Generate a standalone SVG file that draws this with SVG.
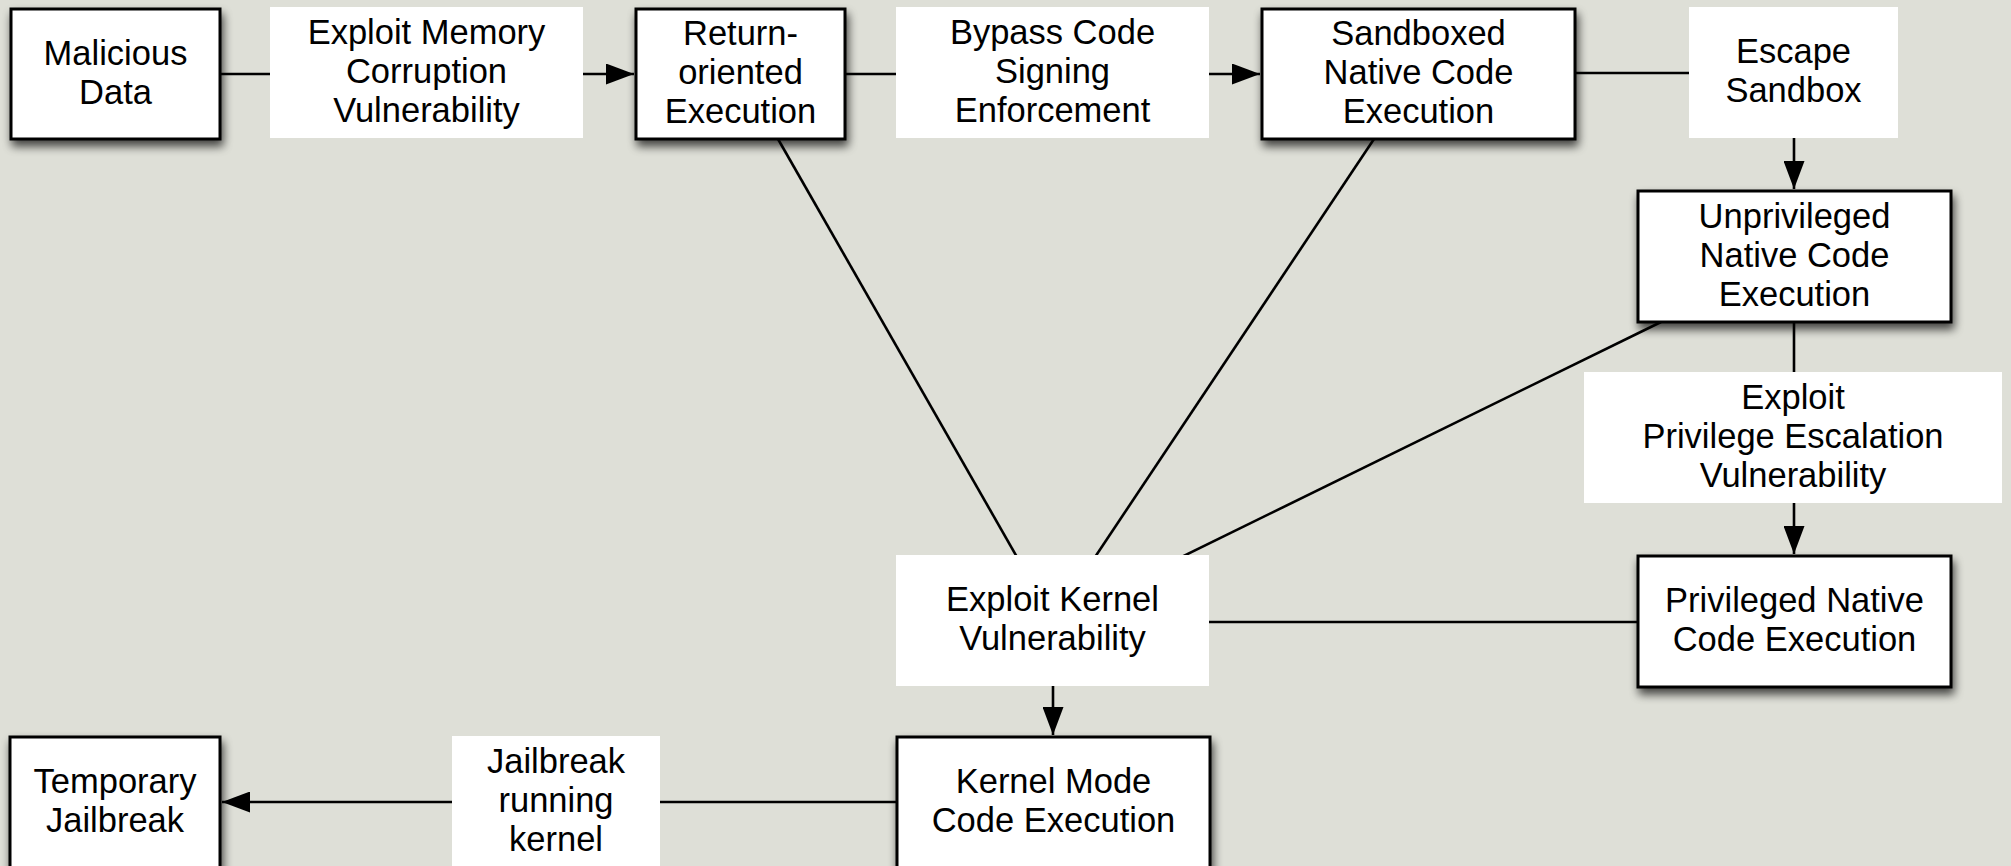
<svg xmlns="http://www.w3.org/2000/svg" width="2011" height="866" viewBox="0 0 2011 866">
<defs>
<filter id="sh" x="-10%" y="-10%" width="125%" height="140%">
<feGaussianBlur in="SourceAlpha" stdDeviation="5"/>
<feOffset dx="2" dy="6" result="b"/>
<feComponentTransfer><feFuncA type="linear" slope="0.7"/></feComponentTransfer>
<feMerge><feMergeNode/><feMergeNode in="SourceGraphic"/></feMerge>
</filter>
<marker id="ah" viewBox="0 0 28 21" refX="28" refY="10.5" markerWidth="28" markerHeight="21" markerUnits="userSpaceOnUse" orient="auto">
<path d="M0,0 L28,10.5 L0,21 z" fill="#000"/>
</marker>
</defs>
<style>
.box{fill:#fff;stroke:#000;stroke-width:3;filter:url(#sh)}
.lbl{fill:#fff}
.c{fill:none;stroke:#000;stroke-width:2.6}
text{font-family:"Liberation Sans",Arial,Helvetica,sans-serif;font-size:34.5px;fill:#000;text-anchor:middle}
</style>
<rect width="2011" height="866" fill="#dedfd7"/>
<g id="connectors">
<path class="c" d="M220,74 H634" marker-end="url(#ah)"/>
<path class="c" d="M845,74 H1260" marker-end="url(#ah)"/>
<path class="c" d="M1575,73 H1794 V189" marker-end="url(#ah)"/>
<path class="c" d="M1794,322 V554" marker-end="url(#ah)"/>
<path class="c" d="M778,139 L1053,620"/>
<path class="c" d="M1374,139 L1053,620"/>
<path class="c" d="M1661,322 L1053,620"/>
<path class="c" d="M1638,622 H1053"/>
<path class="c" d="M1053,686 V735" marker-end="url(#ah)"/>
<path class="c" d="M897,802 H222" marker-end="url(#ah)"/>
</g>
<g id="malicious"><rect class="box" x="11" y="9" width="209" height="130"/><text x="115.5" y="64.5">Malicious</text><text x="115.5" y="103.5">Data</text></g>
<g id="lbl-memory"><rect class="lbl" x="270" y="7" width="313" height="131"/><text x="426.5" y="43.5">Exploit Memory</text><text x="426.5" y="82.5">Corruption</text><text x="426.5" y="121.5">Vulnerability</text></g>
<g id="return"><rect class="box" x="636" y="9" width="209" height="130"/><text x="740.5" y="45">Return-</text><text x="740.5" y="84">oriented</text><text x="740.5" y="123">Execution</text></g>
<g id="lbl-bypass"><rect class="lbl" x="896" y="7" width="313" height="131"/><text x="1052.5" y="43.5">Bypass Code</text><text x="1052.5" y="82.5">Signing</text><text x="1052.5" y="121.5">Enforcement</text></g>
<g id="sandboxed"><rect class="box" x="1262" y="9" width="313" height="130"/><text x="1418.5" y="45">Sandboxed</text><text x="1418.5" y="84">Native Code</text><text x="1418.5" y="123">Execution</text></g>
<g id="lbl-escape"><rect class="lbl" x="1689" y="7" width="209" height="131"/><text x="1793.5" y="63">Escape</text><text x="1793.5" y="102">Sandbox</text></g>
<g id="unprivileged"><rect class="box" x="1638" y="191" width="313" height="131"/><text x="1794.5" y="227.5">Unprivileged</text><text x="1794.5" y="266.5">Native Code</text><text x="1794.5" y="305.5">Execution</text></g>
<g id="lbl-privesc"><rect class="lbl" x="1584" y="372" width="418" height="131"/><text x="1793" y="408.5">Exploit</text><text x="1793" y="447.5">Privilege Escalation</text><text x="1793" y="486.5">Vulnerability</text></g>
<g id="privileged"><rect class="box" x="1638" y="556" width="313" height="131"/><text x="1794.5" y="612">Privileged Native</text><text x="1794.5" y="651">Code Execution</text></g>
<g id="lbl-kernel"><rect class="lbl" x="896" y="555" width="313" height="131"/><text x="1052.5" y="611">Exploit Kernel</text><text x="1052.5" y="650">Vulnerability</text></g>
<g id="kernelmode"><rect class="box" x="897" y="737" width="313" height="131"/><text x="1053.5" y="793">Kernel Mode</text><text x="1053.5" y="832">Code Execution</text></g>
<g id="lbl-jailbreak"><rect class="lbl" x="452" y="736" width="208" height="131"/><text x="556" y="772.5">Jailbreak</text><text x="556" y="811.5">running</text><text x="556" y="850.5">kernel</text></g>
<g id="temporary"><rect class="box" x="10" y="737" width="210" height="131"/><text x="115" y="793">Temporary</text><text x="115" y="832">Jailbreak</text></g>
</svg>
